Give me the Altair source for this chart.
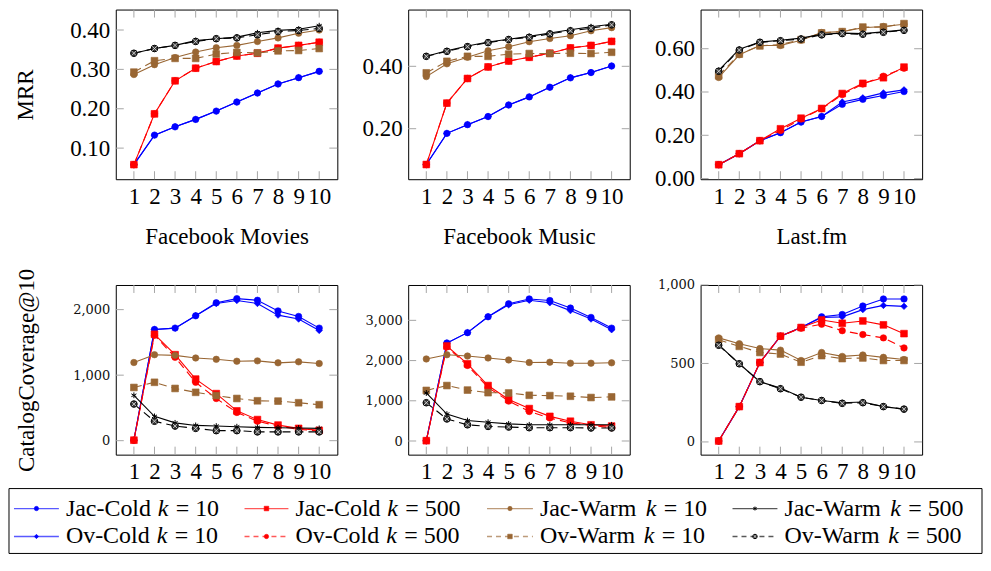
import altair as alt
import pandas as pd

# ---------------- data ----------------
X_VALUES = list(range(1, 11))

SERIES_KEYS = ["JC10", "JC500", "JW10", "JW500", "OC10", "OC500", "OW10", "OW500"]
LEGEND_NAMES = ["Jac-Cold", "Jac-Cold", "Jac-Warm", "Jac-Warm",
                "Ov-Cold", "Ov-Cold", "Ov-Warm", "Ov-Warm"]
LEGEND_K = ["10", "500", "10", "500", "10", "500", "10", "500"]

# MRR - Facebook Movies
fbm_mrr = {
    "JC10": [0.058, 0.133, 0.154, 0.173, 0.194, 0.217, 0.240, 0.263, 0.279, 0.295],
    "OC10": [0.058, 0.133, 0.154, 0.173, 0.194, 0.217, 0.240, 0.263, 0.279, 0.295],
    "JC500": [0.058, 0.187, 0.271, 0.303, 0.320, 0.334, 0.341, 0.354, 0.361, 0.369],
    "OC500": [0.058, 0.187, 0.271, 0.303, 0.320, 0.334, 0.341, 0.354, 0.361, 0.369],
    "JW10": [0.287, 0.312, 0.330, 0.344, 0.355, 0.361, 0.371, 0.380, 0.392, 0.400],
    "OW10": [0.293, 0.322, 0.328, 0.328, 0.339, 0.343, 0.342, 0.347, 0.348, 0.353],
    "JW500": [0.341, 0.353, 0.361, 0.373, 0.378, 0.382, 0.393, 0.399, 0.402, 0.411],
    "OW500": [0.341, 0.353, 0.361, 0.371, 0.378, 0.380, 0.388, 0.396, 0.399, 0.404],
}
# MRR - Facebook Music
fbmu_mrr = {
    "JC10": [0.085, 0.185, 0.213, 0.239, 0.276, 0.302, 0.333, 0.363, 0.380, 0.401],
    "OC10": [0.085, 0.185, 0.213, 0.239, 0.276, 0.302, 0.333, 0.363, 0.380, 0.401],
    "JC500": [0.085, 0.282, 0.361, 0.398, 0.417, 0.429, 0.442, 0.459, 0.467, 0.480],
    "OC500": [0.085, 0.282, 0.361, 0.398, 0.417, 0.429, 0.442, 0.459, 0.467, 0.480],
    "JW10": [0.367, 0.408, 0.429, 0.450, 0.463, 0.479, 0.489, 0.498, 0.514, 0.524],
    "OW10": [0.379, 0.416, 0.432, 0.432, 0.439, 0.441, 0.441, 0.442, 0.441, 0.445],
    "JW500": [0.432, 0.450, 0.465, 0.478, 0.487, 0.496, 0.507, 0.517, 0.527, 0.535],
    "OW500": [0.432, 0.448, 0.463, 0.476, 0.486, 0.493, 0.504, 0.514, 0.522, 0.533],
}
# MRR - Last.fm
lfm_mrr = {
    "JC10": [0.064, 0.115, 0.175, 0.212, 0.261, 0.287, 0.343, 0.366, 0.384, 0.402],
    "OC10": [0.064, 0.115, 0.175, 0.212, 0.261, 0.287, 0.354, 0.373, 0.396, 0.410],
    "JC500": [0.064, 0.115, 0.175, 0.230, 0.279, 0.324, 0.393, 0.440, 0.466, 0.515],
    "OC500": [0.064, 0.115, 0.175, 0.222, 0.275, 0.322, 0.388, 0.437, 0.473, 0.510],
    "JW10": [0.467, 0.572, 0.615, 0.615, 0.639, 0.675, 0.679, 0.697, 0.703, 0.713],
    "OW10": [0.475, 0.575, 0.613, 0.619, 0.642, 0.673, 0.679, 0.700, 0.700, 0.716],
    "JW500": [0.500, 0.598, 0.631, 0.639, 0.649, 0.667, 0.672, 0.670, 0.678, 0.687],
    "OW500": [0.496, 0.594, 0.630, 0.637, 0.645, 0.664, 0.670, 0.667, 0.676, 0.685],
}
# CatalogCoverage@10 - Facebook Movies
fbm_cov = {
    "JC10": [8, 1698, 1718, 1906, 2104, 2168, 2143, 1980, 1896, 1718],
    "OC10": [8, 1698, 1718, 1906, 2094, 2139, 2094, 1916, 1856, 1683],
    "JC500": [8, 1624, 1312, 940, 718, 455, 322, 238, 188, 158],
    "OC500": [8, 1609, 1272, 891, 644, 431, 297, 223, 173, 149],
    "JW10": [1193, 1312, 1302, 1262, 1242, 1213, 1218, 1188, 1203, 1178],
    "OW10": [812, 891, 797, 738, 688, 644, 609, 604, 579, 549],
    "JW500": [693, 371, 272, 233, 223, 213, 203, 198, 193, 188],
    "OW500": [559, 297, 223, 188, 153, 153, 134, 134, 134, 134],
}
# CatalogCoverage@10 - Facebook Music
fbmu_cov = {
    "JC10": [8, 2436, 2694, 3089, 3411, 3532, 3492, 3306, 3073, 2807],
    "OC10": [8, 2436, 2694, 3089, 3387, 3500, 3436, 3242, 3032, 2766],
    "JC500": [8, 2363, 1919, 1379, 1032, 806, 613, 492, 403, 371],
    "OC500": [8, 2339, 1879, 1331, 992, 734, 573, 452, 387, 331],
    "JW10": [2040, 2145, 2113, 2065, 2016, 1952, 1960, 1935, 1935, 1944],
    "OW10": [1258, 1379, 1266, 1202, 1194, 1137, 1129, 1113, 1081, 1097],
    "JW500": [1194, 669, 508, 468, 427, 403, 403, 403, 403, 403],
    "OW500": [952, 548, 403, 363, 347, 331, 331, 331, 323, 323],
}
# CatalogCoverage@10 - Last.fm
lfm_cov = {
    "JC10": [6, 225, 506, 674, 729, 797, 812, 866, 911, 911],
    "OC10": [6, 225, 506, 674, 729, 793, 797, 843, 870, 864],
    "JC500": [6, 225, 506, 674, 729, 777, 756, 771, 746, 690],
    "OC500": [6, 225, 506, 674, 725, 750, 709, 684, 663, 599],
    "JW10": [663, 626, 595, 585, 519, 570, 545, 554, 539, 525],
    "OW10": [651, 609, 570, 560, 508, 550, 531, 535, 519, 519],
    "JW500": [618, 498, 384, 343, 285, 264, 250, 254, 225, 209],
    "OW500": [616, 498, 384, 339, 285, 264, 246, 250, 225, 209],
}

DATASET_TITLES = ["Facebook Movies", "Facebook Music", "Last.fm"]
MRR_TICKS = [[0.1, 0.2, 0.3, 0.4], [0.2, 0.4], [0.0, 0.2, 0.4, 0.6]]
COV_TICKS = [[0, 1000, 2000], [0, 1000, 2000, 3000], [0, 500, 1000]]

# ---------------- style ----------------
FONT = "Liberation Serif"
SMALL_FONT = "DejaVu Serif"
W, H = 222, 170
TICK_LEN = 8
TICK_COLOR = "#a6a6a6"
BLUE, RED, BROWN, BLACK = "#0000ff", "#ff0000", "#996633", "#000000"
ASTERISK = "M0,-1L0,1M-0.866,-0.5L0.866,0.5M-0.866,0.5L0.866,-0.5"
XMARK = "M-0.7,-0.7L0.7,0.7M-0.7,0.7L0.7,-0.7"

STYLE = {
    "JC10": (BLUE, "circle", False),
    "JC500": (RED, "square", False),
    "JW10": (BROWN, "circle", False),
    "JW500": (BLACK, "asterisk", False),
    "OC10": (BLUE, "diamond", False),
    "OC500": (RED, "circle", True),
    "OW10": (BROWN, "square", True),
    "OW500": (BLACK, "otimes", True),
}
DRAW_ORDER = ["JC10", "OC10", "JC500", "OC500", "JW10", "OW10", "JW500", "OW500"]
DASH = [8, 5]


def marker_layers(data, key, enc, scale=1.0):
    color, marker, _ = STYLE[key]
    base = alt.Chart(data)
    if marker in ("circle", "square", "diamond"):
        size = {"circle": 42, "square": 46, "diamond": 42}[marker] * scale
        return [base.mark_point(shape=marker, filled=True, fill=color, stroke=color,
                                strokeWidth=0.6, opacity=1, size=size).encode(**enc)]
    if marker == "asterisk":
        return [base.mark_point(shape=ASTERISK, filled=False, stroke=color,
                                strokeWidth=1, opacity=1, size=34 * scale).encode(**enc)]
    # otimes
    return [
        base.mark_point(shape="circle", filled=True, fill="#3a3a3a", stroke=BLACK,
                        strokeWidth=1, opacity=1, size=44 * scale).encode(**enc),
        base.mark_point(shape=XMARK, filled=False, stroke="#e6e6e6",
                        strokeWidth=0.8, opacity=1, size=44 * scale).encode(**enc),
    ]


# ---------------- legend (drawn below the bottom-left panel) ----------------
LEG_LEFT, LEG_RIGHT = -107, 868     # relative to bottom-left plot origin
LEG_TOP, LEG_H = H + 34, 65
ROW_Y = [LEG_TOP + 20, LEG_TOP + 48]
COL_LINE = [(-102, -57), (129, 173), (372, 418), (618, 663)]
COL_TEXT = [-50, 180, 425, 670]
K_OFF = [92, 92, 106, 106, 91, 91, 104, 104]
LEG_FONT_SIZE = 24


def legend_layers():
    box = pd.DataFrame({"b": [1]})
    layers = [alt.Chart(box).mark_rect(fill="transparent", stroke="black", strokeWidth=1).encode(
        x=alt.value(LEG_LEFT), x2=alt.value(LEG_RIGHT),
        y=alt.value(LEG_TOP), y2=alt.value(LEG_TOP + LEG_H))]
    for i, key in enumerate(SERIES_KEYS):
        color, marker, dashed = STYLE[key]
        r, c = divmod(i, 4)
        y = ROW_Y[r]
        x0, x1 = COL_LINE[c]
        one = pd.DataFrame({"name": [LEGEND_NAMES[i]], "k": ["k"], "eq": ["= " + LEGEND_K[i]]})
        kw = dict(color=color, strokeWidth=1.3, strokeOpacity=0.65)
        if dashed:
            kw["strokeDash"] = [5, 4]
        layers.append(alt.Chart(one).mark_rule(**kw).encode(
            x=alt.value(x0), x2=alt.value(x1), y=alt.value(y)))
        layers += marker_layers(one, key, dict(x=alt.value((x0 + x1) / 2), y=alt.value(y)), scale=0.45)
        tx = COL_TEXT[c]
        txt = dict(font=FONT, fontSize=LEG_FONT_SIZE, baseline="middle", align="left", color="black")
        layers.append(alt.Chart(one).mark_text(**txt).encode(
            text="name:N", x=alt.value(tx), y=alt.value(y)))
        layers.append(alt.Chart(one).mark_text(fontStyle="italic", **txt).encode(
            text="k:N", x=alt.value(tx + K_OFF[i]), y=alt.value(y)))
        layers.append(alt.Chart(one).mark_text(**txt).encode(
            text="eq:N", x=alt.value(tx + K_OFF[i] + 18), y=alt.value(y)))
    return layers


def panel(values, ydom, yticks, yfmt, xtitle=None, ytitle=None, small=False, ytp=32,
          with_legend=False):
    xaxis = alt.Axis(values=X_VALUES, format="d", title=xtitle, labelFlush=False,
                     labelOverlap=False, labelPadding=6, titlePadding=17, ticks=False,
                     domain=False, grid=False, labelFont=FONT, labelFontSize=23,
                     titleFont=FONT, titleFontSize=23, titleFontWeight="normal",
                     labelColor="black", titleColor="black", labelAngle=0)
    yaxis = alt.Axis(values=yticks, format=yfmt, title=ytitle, labelPadding=6,
                     titlePadding=ytp, ticks=False, domain=False, grid=False,
                     labelFont=SMALL_FONT if small else FONT,
                     labelFontSize=13 if small else 23,
                     titleFont=FONT, titleFontSize=23, titleFontWeight="normal",
                     labelColor="#111111" if small else "black", titleColor="black",
                     labelFlush=False, labelOverlap=False)
    X = alt.X("x:Q", scale=alt.Scale(domain=[0.12, 10.88], nice=False, zero=False), axis=xaxis)
    Y = alt.Y("y:Q", scale=alt.Scale(domain=ydom, nice=False, zero=False), axis=yaxis)

    xt = pd.DataFrame({"x": X_VALUES})
    yt = pd.DataFrame({"y": yticks})
    rule = dict(color=TICK_COLOR, strokeWidth=1)
    layers = [
        alt.Chart(xt).mark_rule(**rule).encode(x=X, y=alt.value(0), y2=alt.value(TICK_LEN)),
        alt.Chart(xt).mark_rule(**rule).encode(x=X, y=alt.value(H - TICK_LEN), y2=alt.value(H)),
        alt.Chart(yt).mark_rule(**rule).encode(y=Y, x=alt.value(0), x2=alt.value(TICK_LEN)),
        alt.Chart(yt).mark_rule(**rule).encode(y=Y, x=alt.value(W - TICK_LEN), x2=alt.value(W)),
    ]
    for key in DRAW_ORDER:
        color, marker, dashed = STYLE[key]
        df = pd.DataFrame({"x": X_VALUES, "y": values[key]})
        kw = dict(color=color, strokeWidth=1.1)
        if dashed:
            kw["strokeDash"] = DASH
        layers.append(alt.Chart(df).mark_line(**kw).encode(x=X, y=Y))
        layers += marker_layers(df, key, dict(x=X, y=Y))
    if with_legend:
        layers += legend_layers()
    return alt.layer(*layers).properties(width=W, height=H)


panels = [
    panel(fbm_mrr, [0.021, 0.452], MRR_TICKS[0], ".2f", xtitle=DATASET_TITLES[0], ytitle="MRR"),
    panel(fbmu_mrr, [0.038, 0.582], MRR_TICKS[1], ".2f", xtitle=DATASET_TITLES[1]),
    panel(lfm_mrr, [-0.003, 0.781], MRR_TICKS[2], ".2f", xtitle=DATASET_TITLES[2]),
    panel(fbm_cov, [-213, 2376], COV_TICKS[0], ",d", ytitle="CatalogCoverage@10", small=True,
          ytp=34, with_legend=True),
    panel(fbmu_cov, [-339, 3879], COV_TICKS[1], ",d", small=True),
    panel(lfm_cov, [-81, 1000], COV_TICKS[2], ",d", small=True),
]

chart = alt.concat(*panels, columns=3, spacing={"row": 106, "column": 71},
                   bounds="flush").properties(padding=0).configure_view(
    stroke="black", strokeWidth=1)

chart.save("out.html", embed_options={"renderer": "svg", "actions": False})
